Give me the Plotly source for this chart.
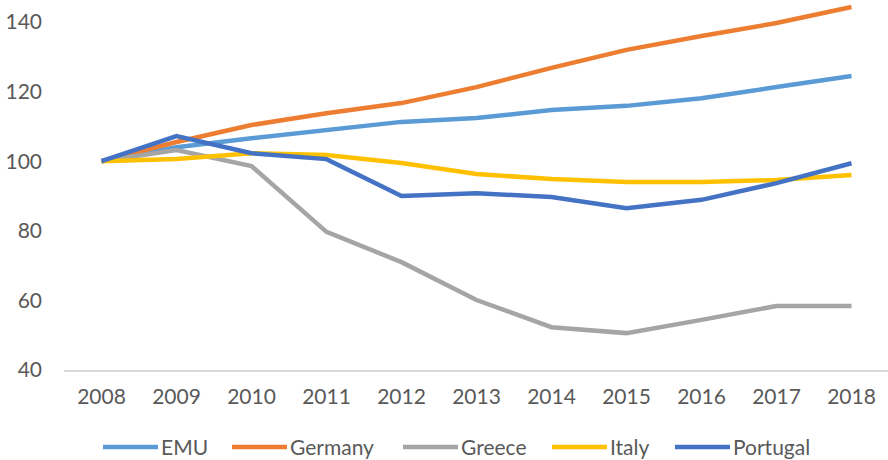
import plotly.graph_objects as go

years = [2008, 2009, 2010, 2011, 2012, 2013, 2014, 2015, 2016, 2017, 2018]
emu = [100, 104.0, 106.6, 109.0, 111.3, 112.4, 114.7, 115.9, 118.1, 121.3, 124.5]
germany = [100, 105.5, 110.4, 113.8, 116.7, 121.3, 126.8, 132.0, 136.0, 139.7, 144.3]
greece = [100, 103.2, 98.6, 79.7, 71.0, 60.1, 52.3, 50.6, 54.4, 58.4, 58.4]
italy = [100, 100.6, 102.3, 101.8, 99.5, 96.3, 94.9, 94.0, 94.0, 94.6, 96.0]
portugal = [100, 107.2, 102.3, 100.6, 90.0, 90.8, 89.7, 86.5, 88.9, 93.7, 99.4]

names = ["EMU", "Germany", "Greece", "Italy", "Portugal"]
values = [emu, germany, greece, italy, portugal]
colors = ["#5B9BD5", "#ED7D31", "#A5A5A5", "#FFC000", "#4472C4"]
y_ticks = [40, 60, 80, 100, 120, 140]

W, H = 888, 460
L, R, T, B = 64, 0, 1, 90
PW, PH = W - L - R, H - T - B
X_STEP_PX = 75.0      # pixels per year
Y_UNIT_PX = 3.48      # pixels per index point

def px(x):
    return (x - L) / PW

def py(y):
    return (H - B - y) / PH

fig = go.Figure()
for name, vals, color in zip(names, values, colors):
    fig.add_trace(go.Scatter(x=years, y=vals, name=name, mode="lines",
                             line=dict(color=color, width=4.5)))

# custom legend (line samples + labels), laid out like the original
leg_line_start = [103, 232, 403, 552, 675]
leg_line_len = 55
leg_y = 447
shapes, annots = [], []
for name, color, x0 in zip(names, colors, leg_line_start):
    shapes.append(dict(type="line", xref="paper", yref="paper",
                       x0=px(x0), x1=px(x0 + leg_line_len), y0=py(leg_y), y1=py(leg_y),
                       line=dict(color=color, width=4.5)))
    annots.append(dict(xref="paper", yref="paper", x=px(x0 + leg_line_len + 1), y=py(leg_y),
                       text=name, showarrow=False, xanchor="left", yanchor="middle",
                       font=dict(size=21, color="#595959")))

x0r = 2007.5
fig.update_layout(
    width=W, height=H,
    margin=dict(l=L, r=R, t=T, b=B, autoexpand=False),
    paper_bgcolor="white", plot_bgcolor="white",
    font=dict(family="Lato, Arial, sans-serif", color="#595959", size=21),
    showlegend=False,
    shapes=shapes, annotations=annots,
    xaxis=dict(range=[x0r, x0r + PW / X_STEP_PX], tickmode="array", tickvals=years,
               ticktext=[str(y) for y in years], showgrid=False, zeroline=False,
               showline=True, linecolor="#D9D9D9", linewidth=1.5, ticks="",
               ticklabelstandoff=7, automargin=False),
    yaxis=dict(range=[40, 40 + PH / Y_UNIT_PX], tickvals=y_ticks, showgrid=False,
               zeroline=False, showline=False, ticks="", ticklabelstandoff=21,
               automargin=False),
)

fig.write_html("out.html", config={"displayModeBar": False},
               post_script="document.body.style.margin='0';")
